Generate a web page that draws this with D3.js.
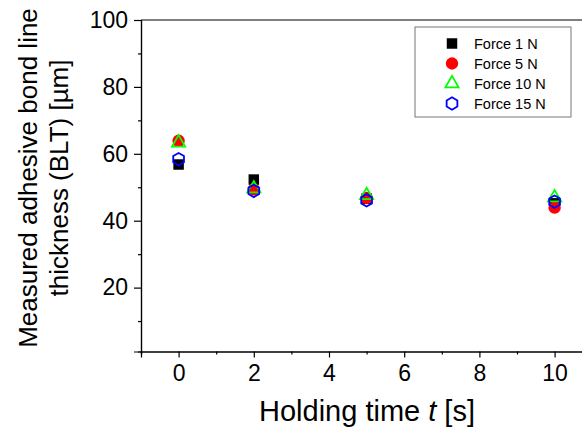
<!DOCTYPE html>
<html>
<head>
<meta charset="utf-8">
<script src="https://cdn.jsdelivr.net/npm/d3@7"></script>
<style>
  body { margin: 0; background: #fff; }
  svg { font-family: "Liberation Sans", Arial, sans-serif; display: block; }
</style>
</head>
<body>
<div class="visContainer"></div>
<script>
// holding time [s]
const times = [0, 2, 5, 10];
const seriesNames = ['Force 1 N', 'Force 5 N', 'Force 10 N', 'Force 15 N'];
const force1 = [56.8, 52.3, 46.6, 45.2];
const force5 = [63.9, 49.4, 46.8, 43.9];
const force10 = [63.3, 49.6, 47.6, 46.9];
const force15 = [58.4, 48.9, 46.1, 45.7];
const xTicks = [0, 2, 4, 6, 8, 10];
const yTicks = [20, 40, 60, 80, 100];

const width = 582;
const height = 430;
const padLeft = 141, padTop = 20, padBottom = 351.5;

const svg = d3.select('.visContainer')
  .append('svg')
  .attr('width', width)
  .attr('height', height);

const xScale = d3.scaleLinear().domain([-1, 11]).range([padLeft, padLeft + 37.6 * 12]);
const yScale = d3.scaleLinear().domain([0.9, 100]).range([padBottom, padTop]);

// frame
svg.append('line')
  .attr('x1', padLeft).attr('x2', width)
  .attr('y1', padTop).attr('y2', padTop)
  .attr('stroke', '#000').attr('stroke-width', 1.2);

const xAxis = d3.axisBottom(xScale).tickValues(xTicks).tickSize(6).tickPadding(7).tickFormat(d3.format('d'));
const xMinor = d3.axisBottom(xScale).tickValues([-1, 1, 3, 5, 7, 9]).tickSize(3).tickFormat('');
const yAxis = d3.axisLeft(yScale).tickValues(yTicks).tickSize(7).tickPadding(6).tickFormat(d3.format('d'));
const yMinor = d3.axisLeft(yScale).tickValues([10, 30, 50, 70, 90]).tickSize(3).tickFormat('');

function styleAxis(g) {
  g.select('.domain').attr('stroke-width', 1.2);
  g.selectAll('.tick line').attr('stroke-width', 1.2);
  g.selectAll('.tick text').attr('font-size', 23).attr('fill', '#000').attr('font-family', '"Liberation Sans", Arial, sans-serif');
}

svg.append('g').attr('transform', 'translate(0,' + padBottom + ')').call(xMinor).call(styleAxis);
svg.append('g').attr('id', 'x-axis').attr('transform', 'translate(0,' + padBottom + ')').call(xAxis).call(styleAxis);
svg.append('g').attr('transform', 'translate(' + padLeft + ',0)').call(yMinor).call(styleAxis);
svg.append('g').attr('id', 'y-axis').attr('transform', 'translate(' + padLeft + ',0)').call(yAxis).call(styleAxis);

// axis titles
const xTitle = svg.append('text')
  .attr('x', 367).attr('y', 421)
  .attr('text-anchor', 'middle')
  .attr('font-size', 29);
xTitle.append('tspan').text('Holding time ');
xTitle.append('tspan').attr('font-style', 'italic').text('t');
xTitle.append('tspan').text(' [s]');

const yTitle = svg.append('text')
  .attr('transform', 'translate(37,178) rotate(-90)')
  .attr('text-anchor', 'middle')
  .attr('font-size', 26);
yTitle.append('tspan').attr('x', 0).attr('y', 0).text('Measured adhesive bond line');
yTitle.append('tspan').attr('x', 0).attr('y', 31).text('thickness (BLT) [\u00b5m]');

// markers
const symbols = [
  { type: d3.symbolSquare, size: 110, fill: '#000', stroke: 'none' },
  { type: d3.symbolCircle, size: 120, fill: '#ff0000', stroke: 'none' },
  { type: d3.symbolTriangle, size: 75, fill: 'none', stroke: '#00ff00' },
  { type: 'hex', size: 6.2, fill: 'none', stroke: '#0000ff' }
];

function hexPath(r) {
  const pts = d3.range(6).map(i => {
    const a = Math.PI / 3 * i - Math.PI / 2;
    return [r * Math.cos(a), r * Math.sin(a)];
  });
  return 'M' + pts.map(p => p.join(',')).join('L') + 'Z';
}

function symbolPath(s) {
  if (s.type === 'hex') return hexPath(s.size);
  return d3.symbol().type(s.type).size(s.size)();
}

const series = [force1, force5, force10, force15];

series.forEach((vals, k) => {
  const s = symbols[k];
  svg.append('g')
    .selectAll('path')
    .data(vals)
    .enter()
    .append('path')
    .attr('d', symbolPath(s))
    .attr('transform', (d, i) => 'translate(' + xScale(times[i]) + ',' + yScale(d) + ')')
    .attr('fill', s.fill)
    .attr('stroke', s.stroke)
    .attr('stroke-width', 1.8);
});

// legend
const legend = svg.append('g').attr('transform', 'translate(415,27)');
legend.append('rect')
  .attr('width', 156).attr('height', 90)
  .attr('fill', '#fff')
  .attr('stroke', '#777').attr('stroke-width', 1);

seriesNames.forEach((name, k) => {
  const s = symbols[k];
  const yy = 16.5 + k * 20;
  legend.append('path')
    .attr('d', symbolPath(s))
    .attr('transform', 'translate(37,' + yy + ')')
    .attr('fill', s.fill)
    .attr('stroke', s.stroke)
    .attr('stroke-width', 1.8);
  legend.append('text')
    .attr('x', 59).attr('y', yy + 5)
    .attr('font-size', 14.5)
    .text(name);
});
</script>
</body>
</html>
